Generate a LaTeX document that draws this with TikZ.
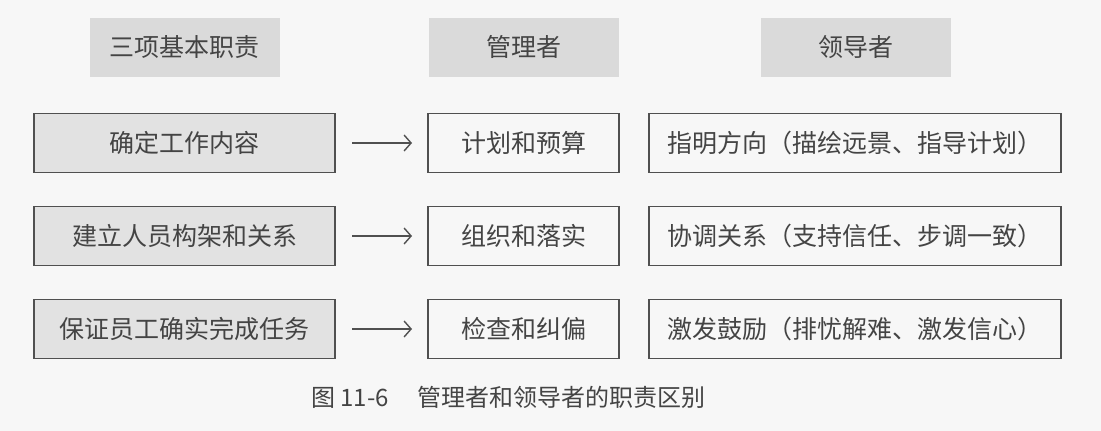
\documentclass[tikz,border=0pt]{standalone}
\usepackage{fontspec}
\usepackage{xcolor}
\usepackage{tikz}
\usetikzlibrary{positioning,arrows.meta}
\newfontfamily\cjk{Noto Sans CJK SC}
\definecolor{paper}{RGB}{247,247,247}
\definecolor{headgray}{RGB}{218,218,218}
\definecolor{boxgray}{RGB}{226,226,226}
\definecolor{linegray}{RGB}{80,80,80}
\definecolor{textgray}{RGB}{68,68,68}
\tikzset{
  head/.style={fill=headgray, minimum width=190pt, minimum height=59pt,
               inner sep=0pt, outer sep=0pt, text=textgray,
               font=\cjk\fontsize{25}{30}\selectfont},
  box/.style={draw=linegray, line width=1.6pt, minimum height=59pt,
              inner sep=0pt, outer sep=0pt, text=textgray,
              font=\cjk\fontsize{25}{30}\selectfont},
  taskbox/.style={box, fill=boxgray, minimum width=301pt},
  mgrbox/.style={box, minimum width=191pt},
  ldrbox/.style={box, minimum width=412pt},
  arrow/.style={-{Straight Barb[length=7pt,width=16pt,line width=1.4pt]}, line width=1.4pt, linegray},
}

\begin{document}
\begin{tikzpicture}[x=1pt, y=-1pt, node distance=34pt]
  \fill[paper] (0,0) rectangle (1101,431);
  \useasboundingbox (0,0) rectangle (1101,431);

  % rows
  \node[taskbox] (L1) at (184.5,143) {确定工作内容};
  \node[taskbox, below=of L1] (L2) {建立人员构架和关系};
  \node[taskbox, below=of L2] (L3) {保证员工确实完成任务};
  \node[mgrbox, right=93pt of L1] (M1) {计划和预算};
  \node[mgrbox, right=93pt of L2] (M2) {组织和落实};
  \node[mgrbox, right=93pt of L3] (M3) {检查和纠偏};
  \node[ldrbox, right=30pt of M1] (R1) {指明方向（描绘远景、指导计划）};
  \node[ldrbox, right=30pt of M2] (R2) {协调关系（支持信任、步调一致）};
  \node[ldrbox, right=30pt of M3] (R3) {激发鼓励（排忧解难、激发信心）};

  % column heads
  \node[head, above=37pt of L1] (H1) {三项基本职责};
  \node[head, above=37pt of M1] (H2) {管理者};
  \node[head, above=37pt of R1, xshift=0.5pt] (H3) {领导者};

  % arrows
  \foreach \i in {1,2,3}
    \draw[arrow] ([xshift=17pt]L\i.east) -- ([xshift=-16pt]M\i.west);

  \node[text=textgray, font=\cjk\fontsize{24}{28}\selectfont] (cap) at (508.5,397)
    {图 11-6\hspace{1.2em}管理者和领导者的职责区别};
\end{tikzpicture}
\end{document}
